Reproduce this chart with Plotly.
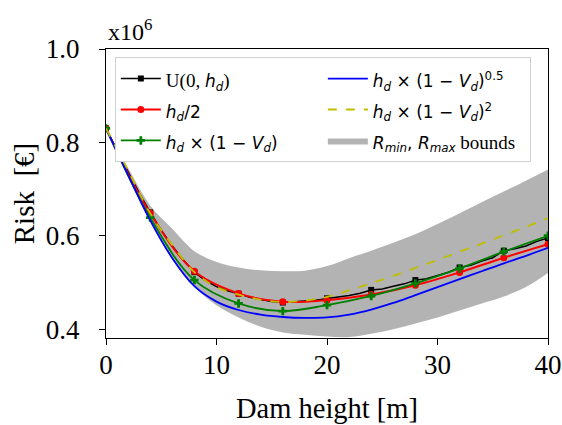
import plotly.graph_objects as go

# ---------------- data ----------------
x2 = [0, 2, 4, 6, 8, 10, 12, 14, 16, 18, 20, 22, 24, 26, 28, 30, 32, 34, 36, 38, 40]
x4 = [0, 4, 8, 12, 16, 20, 24, 28, 32, 36, 40]
x1 = list(range(0, 41))

# U(0, h_d) (Monte Carlo, noisy), every 1 m
u_vals = [0.830, 0.782, 0.737, 0.692, 0.650, 0.612, 0.578, 0.548, 0.522, 0.504, 0.491,
          0.482, 0.476, 0.468, 0.463, 0.459, 0.457, 0.458, 0.460, 0.462, 0.466, 0.469,
          0.472, 0.477, 0.484, 0.486, 0.492, 0.497, 0.505, 0.508, 0.515, 0.522, 0.532,
          0.537, 0.546, 0.553, 0.568, 0.572, 0.578, 0.588, 0.595]
u_mark = [0.830, 0.650, 0.522, 0.476, 0.457, 0.466, 0.484, 0.505, 0.532, 0.568, 0.595]

half_vals = [0.830, 0.648, 0.524, 0.4765, 0.4585, 0.462, 0.474, 0.494, 0.5215, 0.553, 0.582]
lin_vals = [0.830, 0.639, 0.505, 0.455, 0.4386, 0.4515, 0.471, 0.498, 0.530, 0.566, 0.600]

sqrt_vals = [0.830, 0.730, 0.633, 0.552, 0.492, 0.459, 0.441, 0.431, 0.426, 0.424, 0.425,
             0.431, 0.442, 0.456, 0.473, 0.490, 0.507, 0.524, 0.541, 0.557, 0.574]
sq_vals = [0.830, 0.740, 0.648, 0.580, 0.522, 0.490, 0.474, 0.463, 0.458, 0.461, 0.469,
           0.483, 0.498, 0.514, 0.531, 0.548, 0.566, 0.583, 0.601, 0.619, 0.638]

rmax_vals = [0.830, 0.745, 0.665, 0.615, 0.567, 0.544, 0.532, 0.526, 0.524, 0.525, 0.535,
             0.552, 0.568, 0.585, 0.603, 0.625, 0.648, 0.672, 0.695, 0.718, 0.742]
rmin_vals = [0.830, 0.730, 0.630, 0.550, 0.490, 0.451, 0.425, 0.405, 0.393, 0.388, 0.384,
             0.383, 0.390, 0.400, 0.412, 0.425, 0.440, 0.455, 0.470, 0.490, 0.520]

y_ticks = [0.4, 0.6, 0.8, 1.0]
x_ticks = [0, 10, 20, 30, 40]

# ---------------- styling helpers ----------------
def m(s):
    return f"<span style=\"font-family:'DejaVu Sans';font-size:17px\">{s}</span>"

def r(s):
    return f"<span style=\"font-family:'Liberation Serif';font-size:19px\">{s}</span>"

hd = "<i>h</i><sub><i>d</i></sub>"
Vd = "<i>V</i><sub><i>d</i></sub>"

lab_u = r("U(0, ") + m(hd) + r(")")
lab_half = m(hd + "/2")
lab_lin = m(hd + " × (1 − " + Vd + ")")
lab_sqrt = m(hd + " × (1 − " + Vd + ")<sup>0.5</sup>")
lab_sq = m(hd + " × (1 − " + Vd + ")<sup>2</sup>")
lab_band = m("<i>R</i><sub><i>min</i></sub>, <i>R</i><sub><i>max</i></sub>") + r(" bounds")

fig = go.Figure()

# band
fig.add_trace(go.Scatter(x=x2, y=rmax_vals, mode="lines", line=dict(width=0, shape="spline"),
                         showlegend=False, hoverinfo="skip"))
fig.add_trace(go.Scatter(x=x2, y=rmin_vals, mode="lines", line=dict(width=0, shape="spline"),
                         fill="tonexty", fillcolor="#b3b3b3", name=lab_band, legendrank=6))

# U(0,h_d)
fig.add_trace(go.Scatter(x=x1, y=u_vals, mode="lines", line=dict(color="black", width=1.5),
                         showlegend=False))
fig.add_trace(go.Scatter(x=x4, y=u_mark, mode="markers",
                         marker=dict(symbol="square", size=6, color="black"), showlegend=False))
fig.add_trace(go.Scatter(x=[None], y=[None], mode="lines+markers", name=lab_u,
                         line=dict(color="black", width=1.5),
                         marker=dict(symbol="square", size=6, color="black"), legendrank=1))

# h_d/2
fig.add_trace(go.Scatter(x=x4, y=half_vals, mode="lines+markers", name=lab_half,
                         line=dict(color="red", width=2, shape="spline"),
                         marker=dict(symbol="circle", size=7, color="red"), legendrank=3))
# h_d (1-V_d)
fig.add_trace(go.Scatter(x=x4, y=lin_vals, mode="lines+markers", name=lab_lin,
                         line=dict(color="green", width=1.8, shape="spline"),
                         marker=dict(symbol="cross", size=7, color="green"), legendrank=5))
# sqrt
fig.add_trace(go.Scatter(x=x2, y=sqrt_vals, mode="lines", name=lab_sqrt,
                         line=dict(color="blue", width=1.8, shape="spline"), legendrank=2))
# square
fig.add_trace(go.Scatter(x=x2, y=sq_vals, mode="lines", name=lab_sq,
                         line=dict(color="#bfbf00", width=1.8, dash="dash", shape="spline"),
                         legendrank=4))

AX = 27
fig.update_layout(
    template="none",
    width=562, height=425,
    margin=dict(l=106, r=14, t=49, b=87, autoexpand=False),
    paper_bgcolor="white", plot_bgcolor="white",
    font=dict(family="Liberation Serif", size=19, color="black"),
    showlegend=True,
    legend=dict(
        orientation="h", traceorder="normal",
        x=0.02, y=0.972, xanchor="left", yanchor="top",
        bgcolor="white", bordercolor="#d0d0d0", borderwidth=1,
        entrywidth=152, itemwidth=40,
        font=dict(family="Liberation Serif", size=21.5, color="black"),
    ),
)

fig.update_xaxes(
    range=[0, 40], tickvals=x_ticks, ticks="outside", ticklen=6, tickwidth=1.2,
    tickcolor="black", showline=True, linecolor="black", linewidth=1.2, mirror=True,
    showgrid=False, zeroline=False, automargin=False, ticklabelstandoff=-4,
    tickfont=dict(family="Liberation Serif", size=AX, color="black"),
    title=dict(text="Dam height [m]", font=dict(family="Liberation Serif", size=28.5), standoff=19),
)
fig.update_yaxes(
    range=[0.381, 1.0], tickvals=y_ticks, tickformat=".1f", ticks="outside", ticklen=6,
    tickwidth=1.2, tickcolor="black", showline=True, linecolor="black", linewidth=1.2,
    mirror=True, showgrid=False, zeroline=False, automargin=False, ticklabelstandoff=14,
    tickfont=dict(family="Liberation Serif", size=AX, color="black"),
    title=dict(text="Risk\u00a0\u00a0[€]", font=dict(family="Liberation Serif", size=29), standoff=2),
)

fig.add_annotation(text="x10<sup>6</sup>", xref="paper", yref="paper", x=0, y=1,
                   xanchor="left", yanchor="bottom", showarrow=False, yshift=2,
                   font=dict(family="Liberation Serif", size=24, color="black"))

fig.write_html("out.html", config={"displayModeBar": False},
               post_script="document.body.style.margin='0';document.body.style.padding='0';")
